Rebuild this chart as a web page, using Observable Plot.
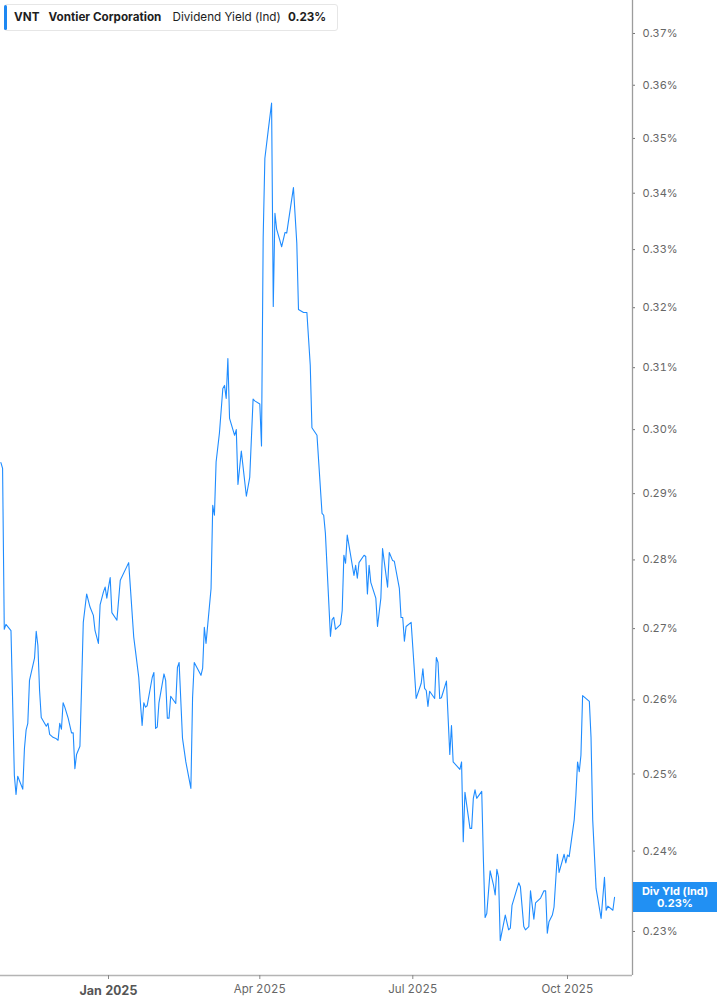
<!DOCTYPE html>
<html>
<head>
<meta charset="utf-8">
<script src="https://cdn.jsdelivr.net/npm/d3@7"></script>
<script src="https://cdn.jsdelivr.net/npm/@observablehq/plot@0.6"></script>
<style>
  html, body { margin: 0; padding: 0; background: #fff; }
  #wrap { position: relative; width: 717px; height: 1005px; font-family: Inter, "Noto Sans", sans-serif; }
  #hdr { position: absolute; left: 4px; top: 4px; width: 334px; height: 27px; box-sizing: border-box;
         border: 1px solid #e6e6e6; border-radius: 3px; background: #fff; font-size: 11.7px; color: #1e1e1e; }
  #hdr .bar { position: absolute; left: -1px; top: 0px; bottom: 0px; width: 3px; background: #1e88f2; border-radius: 2px; }
  #hdr span.t { position: absolute; top: 0; line-height: 25px; white-space: nowrap; }
  #badge { position: absolute; left: 633px; width: 84px; height: 30px; background: #2190f3; color: #fff;
           font-weight: 700; font-size: 11px; line-height: 12px; text-align: center; box-sizing: border-box; padding-top: 3px; }
</style>
</head>
<body>
<div id="wrap">
  <div id="chart"></div>
  <div id="hdr">
    <div class="bar"></div>
    <span class="t" id="h1" style="left:9px;font-weight:700"></span>
    <span class="t" id="h2" style="left:43.5px;font-weight:700"></span>
    <span class="t" id="h3" style="left:167.5px;font-weight:400"></span>
    <span class="t" id="h4" style="left:283px;font-weight:700"></span>
  </div>
  <div id="badge"><div id="b1"></div><div id="b2"></div></div>
</div>
<script>
// ---- header texts ----
const ticker = "VNT";
const company = "Vontier Corporation";
const metric = "Dividend Yield (Ind)";
const currentLabel = "0.23%";
const badgeTitle = "Div Yld (Ind)";

// ---- y ticks (percent) ----
const yTicks = [0.23, 0.24, 0.25, 0.26, 0.27, 0.28, 0.29, 0.30, 0.31, 0.32, 0.33, 0.34, 0.35, 0.36, 0.37];
// ---- x ticks ----
const xTickDates = ["2025-01-01", "2025-04-01", "2025-07-01", "2025-10-01"];

// ---- series: dates ----
const dates = [
  "2024-10-29","2024-10-30","2024-10-31",
  "2024-11-01","2024-11-04","2024-11-06","2024-11-07","2024-11-08","2024-11-11","2024-11-12","2024-11-13","2024-11-14","2024-11-15","2024-11-18","2024-11-19","2024-11-20","2024-11-21","2024-11-22","2024-11-25","2024-11-26","2024-11-27","2024-11-29",
  "2024-12-01","2024-12-02","2024-12-03","2024-12-04","2024-12-05","2024-12-06","2024-12-08","2024-12-10","2024-12-11","2024-12-12","2024-12-13","2024-12-15","2024-12-16","2024-12-17","2024-12-19","2024-12-21","2024-12-23","2024-12-24","2024-12-26","2024-12-27","2024-12-29","2024-12-30","2024-12-31",
  "2025-01-01","2025-01-02","2025-01-03","2025-01-06","2025-01-08","2025-01-13","2025-01-14","2025-01-16","2025-01-17","2025-01-19","2025-01-20","2025-01-21","2025-01-22","2025-01-23","2025-01-24","2025-01-27","2025-01-28","2025-01-29","2025-01-30","2025-01-31",
  "2025-02-03","2025-02-04","2025-02-05","2025-02-06","2025-02-07","2025-02-10","2025-02-11","2025-02-12","2025-02-14","2025-02-16","2025-02-19","2025-02-20","2025-02-21","2025-02-25","2025-02-26","2025-02-27","2025-02-28",
  "2025-03-03","2025-03-04","2025-03-05","2025-03-06","2025-03-08","2025-03-10","2025-03-11","2025-03-12","2025-03-13","2025-03-14","2025-03-17","2025-03-18","2025-03-19","2025-03-21","2025-03-24","2025-03-26","2025-03-28","2025-03-29",
  "2025-04-01","2025-04-02","2025-04-03","2025-04-04","2025-04-06","2025-04-08","2025-04-09","2025-04-10","2025-04-11","2025-04-14","2025-04-16","2025-04-17","2025-04-21","2025-04-23","2025-04-24","2025-04-27","2025-04-29",
  "2025-05-01","2025-05-02","2025-05-05","2025-05-08","2025-05-09","2025-05-10","2025-05-13","2025-05-14","2025-05-15","2025-05-16","2025-05-19","2025-05-20","2025-05-21","2025-05-22","2025-05-23","2025-05-25","2025-05-27","2025-05-28","2025-05-29","2025-05-30",
  "2025-06-02","2025-06-03","2025-06-04","2025-06-05","2025-06-06","2025-06-09","2025-06-10","2025-06-12","2025-06-13","2025-06-16","2025-06-17","2025-06-19","2025-06-20","2025-06-23","2025-06-24","2025-06-25","2025-06-26","2025-06-27","2025-06-30",
  "2025-07-02","2025-07-03","2025-07-06","2025-07-07","2025-07-08","2025-07-09","2025-07-10","2025-07-11","2025-07-14","2025-07-15","2025-07-16","2025-07-17","2025-07-18","2025-07-21","2025-07-23","2025-07-24","2025-07-25","2025-07-29","2025-07-30","2025-07-31",
  "2025-08-01","2025-08-04","2025-08-05","2025-08-06","2025-08-07","2025-08-08","2025-08-11","2025-08-12","2025-08-13","2025-08-14","2025-08-16","2025-08-18","2025-08-19","2025-08-20","2025-08-21","2025-08-22","2025-08-25","2025-08-27","2025-08-28","2025-08-29",
  "2025-09-02","2025-09-03","2025-09-05","2025-09-06","2025-09-08","2025-09-09","2025-09-11","2025-09-12","2025-09-15","2025-09-17","2025-09-18","2025-09-19","2025-09-20","2025-09-22","2025-09-23","2025-09-25","2025-09-26","2025-09-29","2025-09-30",
  "2025-10-01","2025-10-02","2025-10-05","2025-10-06","2025-10-07","2025-10-08","2025-10-09","2025-10-10","2025-10-14","2025-10-15","2025-10-16","2025-10-18","2025-10-21","2025-10-23","2025-10-24","2025-10-25","2025-10-28","2025-10-29"
];

// ---- series: dividend yield (%) ----
const yields = [
  0.2948,0.2939,0.2699,
  0.2706,0.2697,0.2498,0.2473,0.2497,0.2480,0.2534,0.2559,0.2568,0.2627,0.2658,0.2696,0.2676,0.2613,0.2576,0.2564,0.2568,0.2553,0.2549,
  0.2547,0.2545,0.2568,0.2560,0.2596,0.2590,0.2575,0.2555,0.2555,0.2507,0.2526,0.2537,0.2620,0.2709,0.2750,0.2731,0.2719,0.2697,0.2679,0.2734,0.2753,0.2760,0.2744,
  0.2760,0.2774,0.2723,0.2712,0.2770,0.2796,0.2760,0.2688,0.2669,0.2631,0.2595,0.2565,0.2596,0.2590,0.2592,0.2631,0.2638,0.2561,0.2563,0.2596,
  0.2636,0.2627,0.2575,0.2575,0.2605,0.2595,0.2645,0.2652,0.2548,0.2516,0.2481,0.2603,0.2652,0.2634,0.2644,0.2702,0.2679,
  0.2758,0.2882,0.2867,0.2949,0.2995,0.3066,0.3071,0.3050,0.3115,0.3018,0.2991,0.3000,0.2914,0.2966,0.2896,0.2925,0.3049,0.3046,
  0.3041,0.2974,0.3321,0.3463,0.3515,0.3566,0.3202,0.3364,0.3336,0.3305,0.3330,0.3329,0.3410,0.3311,0.3197,0.3192,0.3192,
  0.3104,0.3003,0.2991,0.2870,0.2867,0.2840,0.2689,0.2713,0.2716,0.2699,0.2706,0.2726,0.2807,0.2795,0.2837,0.2807,0.2777,0.2792,0.2773,0.2796,
  0.2807,0.2805,0.2750,0.2792,0.2767,0.2744,0.2703,0.2744,0.2817,0.2760,0.2811,0.2799,0.2798,0.2758,0.2716,0.2716,0.2682,0.2703,0.2709,
  0.2638,0.2602,0.2623,0.2643,0.2616,0.2613,0.2591,0.2612,0.2602,0.2659,0.2652,0.2602,0.2603,0.2626,0.2526,0.2565,0.2516,0.2506,0.2516,0.2412,
  0.2476,0.2429,0.2429,0.2468,0.2479,0.2468,0.2477,0.2388,0.2317,0.2322,0.2375,0.2357,0.2345,0.2377,0.2367,0.2289,0.2320,0.2302,0.2304,0.2332,
  0.2360,0.2355,0.2306,0.2302,0.2306,0.2350,0.2315,0.2335,0.2341,0.2350,0.2350,0.2298,0.2312,0.2320,0.2330,0.2396,0.2373,0.2396,0.2385,
  0.2395,0.2393,0.2440,0.2472,0.2516,0.2503,0.2525,0.2606,0.2598,0.2549,0.2440,0.2353,0.2316,0.2367,0.2326,0.2331,0.2326,0.2342
];

const parse = s => new Date(s + "T00:00:00Z");
const data = dates.map((d, i) => ({ date: parse(d), v: yields[i] }));

const DAY = 864e5, J1 = Date.UTC(2025, 0, 1);
const xStart = new Date(J1 - 64.24 * DAY), xEnd = new Date(J1 + 311.67 * DAY);
const yMin = 0.2247, yMax = 0.37652;
const fmtX = d3.utcFormat("%b %Y");

const plot = Plot.plot({
  width: 717,
  height: 1005,
  marginTop: 0,
  marginLeft: 0,
  marginRight: 85,
  marginBottom: 30,
  style: { fontFamily: "Inter, 'Noto Sans', sans-serif", background: "transparent", overflow: "visible" },
  x: { type: "utc", domain: [xStart, xEnd] },
  y: { type: "log", domain: [yMin, yMax] },
  marks: [
    Plot.ruleX([xEnd], { stroke: "#9c9c9c", strokeWidth: 1.3 }),
    Plot.ruleY([yMin], { stroke: "#b4b4b4", strokeWidth: 1.6 }),
    Plot.axisY(yTicks, {
      anchor: "right", tickSize: 2, tickPadding: 8, label: null,
      tickFormat: d => d.toFixed(2) + "%", fontSize: 11, fill: "#666", stroke: "#777"
    }),
    Plot.axisX(xTickDates.slice(0, 1).map(parse), {
      anchor: "bottom", tickSize: 4, tickPadding: 7, label: null, tickFormat: fmtX,
      fontSize: 12.5, fontWeight: "bold", fill: "#555", stroke: "#888"
    }),
    Plot.axisX(xTickDates.slice(1).map(parse), {
      anchor: "bottom", tickSize: 4, tickPadding: 5, label: null, tickFormat: fmtX,
      fontSize: 11.5, fill: "#666", stroke: "#888"
    }),
    Plot.line(data, { x: "date", y: "v", stroke: "#1f8cff", strokeWidth: 1.1 })
  ]
});
document.getElementById("chart").appendChild(plot);

document.getElementById("h1").textContent = ticker;
document.getElementById("h2").textContent = company;
document.getElementById("h3").textContent = metric;
document.getElementById("h4").textContent = currentLabel;
document.getElementById("b1").textContent = badgeTitle;
document.getElementById("b2").textContent = currentLabel;
const yLast = plot.scale("y").apply(yields[yields.length - 1]);
document.getElementById("badge").style.top = (yLast - 15) + "px";
</script>
</body>
</html>
